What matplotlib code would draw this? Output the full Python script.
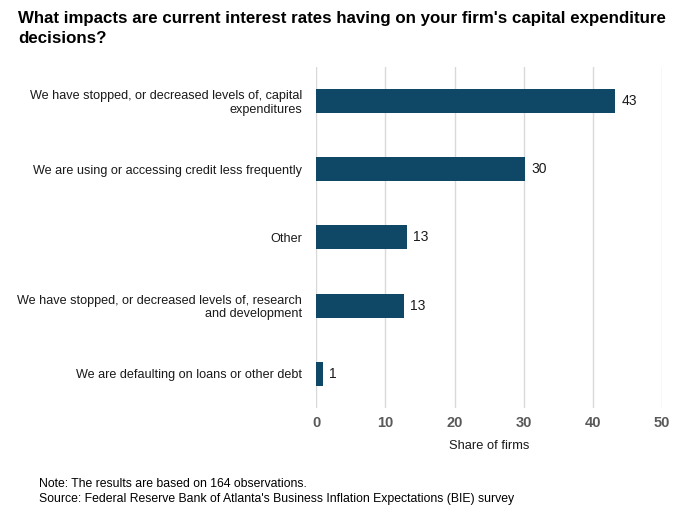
import matplotlib.pyplot as plt

plt.rcParams['font.family'] = ['Liberation Sans', 'DejaVu Sans']

categories = [
    "We have stopped, or decreased levels of, capital\nexpenditures",
    "We are using or accessing credit less frequently",
    "Other",
    "We have stopped, or decreased levels of, research\nand development",
    "We are defaulting on loans or other debt",
]
values = [43.2, 30.2, 13.1, 12.7, 0.97]
labels = ["43", "30", "13", "13", "1"]
xticks = [0, 10, 20, 30, 40, 50]

fig = plt.figure(figsize=(6.92, 5.18), dpi=100)
ax = fig.add_axes([0.457, 0.2124, 0.5, 0.659])

ypos = list(range(len(categories)))
ax.barh(ypos, values, height=0.35, color="#0f4767", zorder=3)
for y, v, lab in zip(ypos, values, labels):
    ax.text(v + 0.9, y, lab, va="center", ha="left", fontsize=10, color="#1a1a1a")

ax.set_ylim(len(categories) - 0.5, -0.5)
ax.set_xlim(0, 50)
ax.set_yticks(ypos)
ax.set_yticklabels(categories, fontsize=9.1, color="#1a1a1a", linespacing=1.15)
ax.set_xticks(xticks)
ax.set_xticklabels([str(t) for t in xticks], fontsize=10.5, fontweight="bold", color="#595959")
ax.tick_params(axis="both", length=0)
ax.tick_params(axis="y", pad=10)
ax.tick_params(axis="x", pad=6)
ax.grid(axis="x", color="#d9d9d9", linewidth=1, zorder=0)
for s in ax.spines.values():
    s.set_visible(False)
ax.set_xlabel("Share of firms", fontsize=9.3, color="#1a1a1a", labelpad=7)

fig.text(0.026, 0.978, "What impacts are current interest rates having on your firm's capital expenditure\ndecisions?",
         ha="left", va="top", fontsize=12.2, fontweight="bold", color="#000000", linespacing=1.4)
fig.text(0.057, 0.077, "Note: The results are based on 164 observations.\nSource: Federal Reserve Bank of Atlanta's Business Inflation Expectations (BIE) survey",
         ha="left", va="top", fontsize=8.8, color="#000000", linespacing=1.3)

fig.savefig("out.png", dpi=100)
